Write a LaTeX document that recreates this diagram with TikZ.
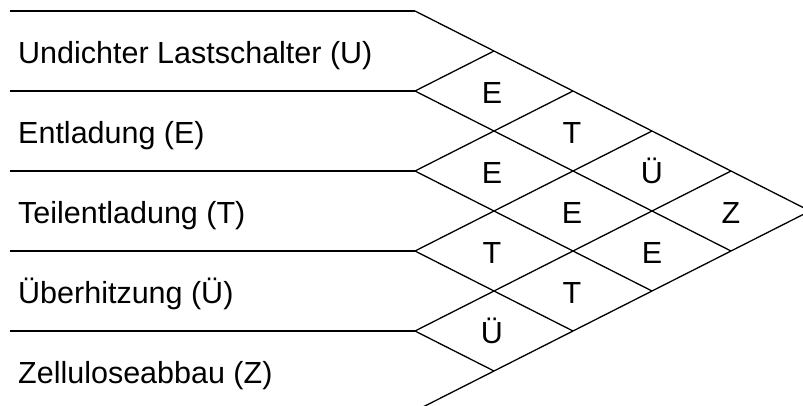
\documentclass[tikz,border=0pt]{standalone}
\usepackage{fontspec}
\setmainfont{Liberation Sans}
\begin{document}
\begin{tikzpicture}[x=1pt,y=-1pt,
  ln/.style={line width=1.3pt, black},
  lab/.style={anchor=base west, inner sep=0pt, font=\fontsize{30.5}{36}\selectfont},
  cell/.style={anchor=base, inner sep=0pt, font=\fontsize{30.5}{36}\selectfont}]
\useasboundingbox (0,0) rectangle (803,405);
\clip (0,0) rectangle (803,405);
% lattice points
\foreach \k in {0,...,5}{
  \coordinate (L\k) at (415, 11+80*\k);
  \coordinate (B\k) at ({415+79*(5-\k)}, {11+80*\k+40*(5-\k)});
  \coordinate (T\k) at ({415+79*\k}, {11+40*\k});
}
% horizontal row separators
\foreach \k in {0,...,4}{
  \coordinate (H\k) at (9.5, 11+80*\k);
  \draw[ln] (H\k) -- (L\k);
}
% down-right lines
\foreach \k in {0,...,4}{
  \draw[ln] (L\k) -- (B\k);
}
% up-right lines
\foreach \k in {1,...,5}{
  \draw[ln] (L\k) -- (T\k);
}
% row labels
\node[lab] (r1) at (18,63) {Undichter Lastschalter (U)};
\node[lab] (r2) at (18,143) {Entladung (E)};
\node[lab] (r3) at (18,223) {Teilentladung (T)};
\node[lab] (r4) at (18,303) {Überhitzung (Ü)};
\node[lab] (r5) at (18,383) {Zelluloseabbau (Z)};
% cell letters
\node[cell] (c12) at (492,103.5) {E};
\node[cell] (c13) at (572,143.5) {T};
\node[cell] (c14) at (652,183.5) {Ü};
\node[cell] (c15) at (731,223.5) {Z};
\node[cell] (c23) at (492,183.5) {E};
\node[cell] (c24) at (572,223.5) {E};
\node[cell] (c25) at (652,263.5) {E};
\node[cell] (c34) at (492,263.5) {T};
\node[cell] (c35) at (572,303.5) {T};
\node[cell] (c45) at (492,343.5) {Ü};
\end{tikzpicture}
\end{document}
